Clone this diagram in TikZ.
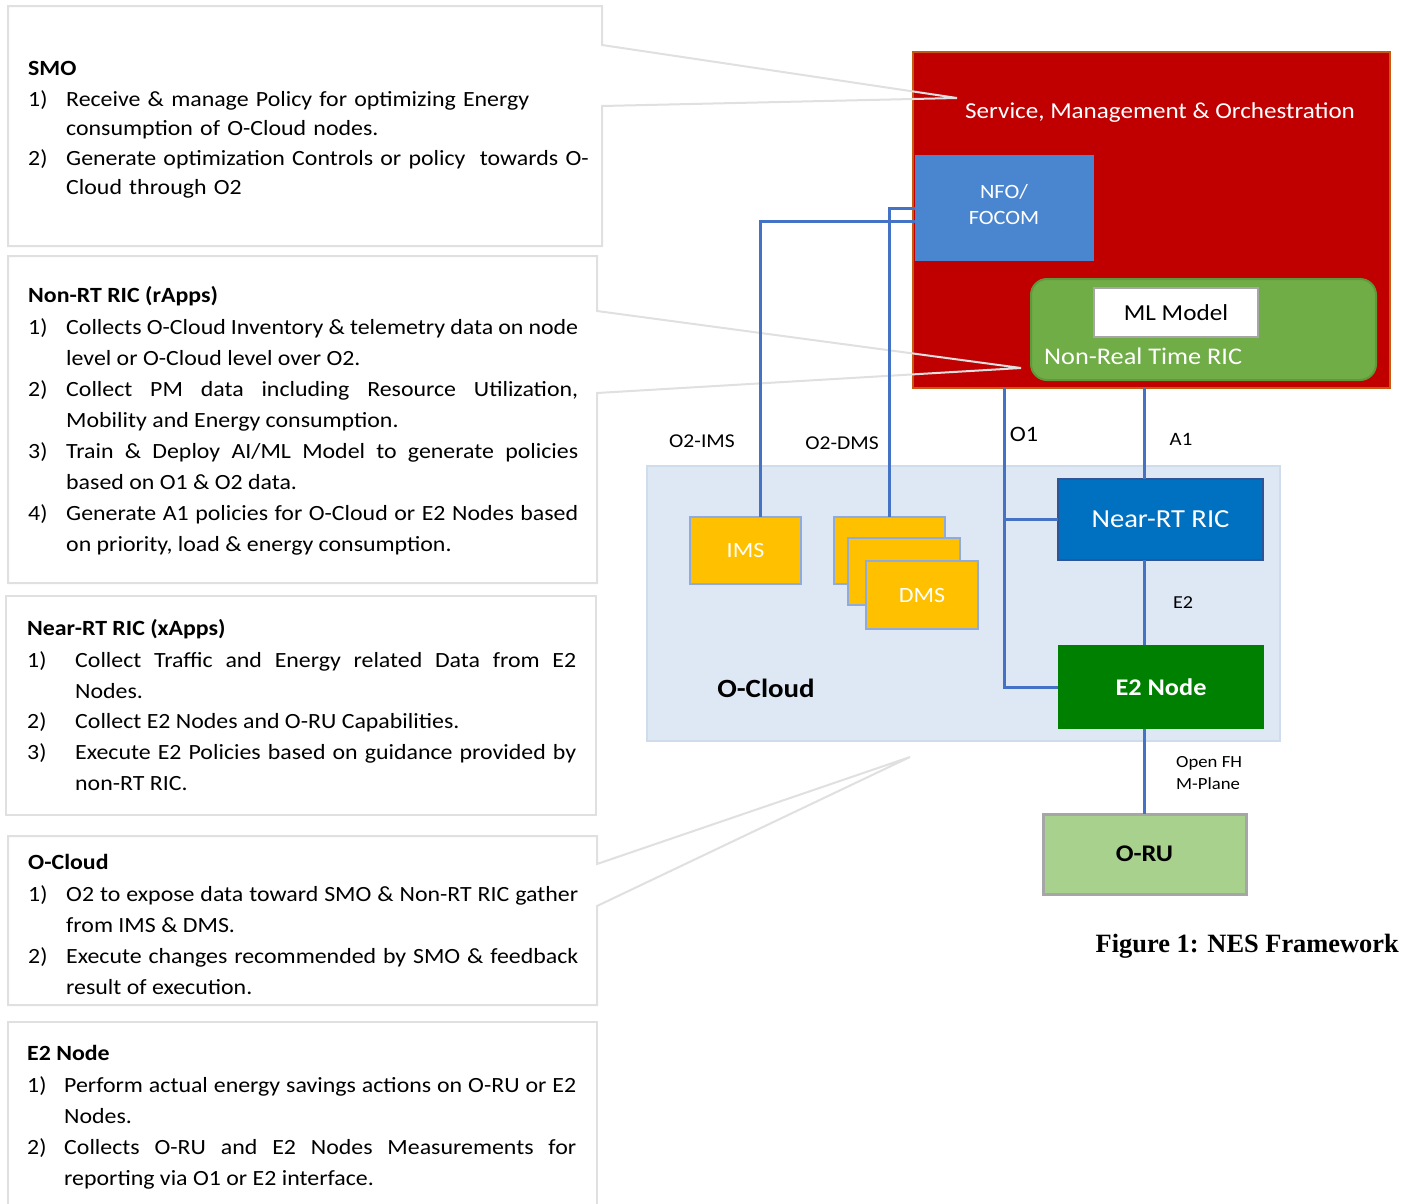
\documentclass[tikz,border=0pt]{standalone}
\usepackage{fontspec}
\setmainfont{Carlito}[FakeStretch=1.1]
\newfontfamily\capfont{Liberation Serif}
\usetikzlibrary{calc}

\definecolor{smored}{HTML}{C00000}
\definecolor{smoedge}{HTML}{C55A11}
\definecolor{nfoblue}{HTML}{4A86D0}
\definecolor{ricgreen}{HTML}{70AD47}
\definecolor{ricedge}{HTML}{5E9A3A}
\definecolor{cloudfill}{HTML}{DEE8F5}
\definecolor{cloudedge}{HTML}{CFDCEC}
\definecolor{msyellow}{HTML}{FFC000}
\definecolor{msedge}{HTML}{8FAADC}
\definecolor{nearblue}{HTML}{0070C0}
\definecolor{nearedge}{HTML}{2F5597}
\definecolor{e2green}{HTML}{008000}
\definecolor{rugreen}{HTML}{A9D18E}
\definecolor{grayedge}{HTML}{A6A6A6}
\definecolor{linkblue}{HTML}{4472C4}
\definecolor{calloutgray}{HTML}{E0E0E0}

\tikzset{
  blk/.style={anchor=north west, inner sep=0pt, outer sep=0pt, line width=2pt},
  callout/.style={draw=calloutgray, line width=2pt, line join=miter},
  link/.style={draw=linkblue, line width=3pt},
  head/.style={anchor=base west, inner sep=0pt, font=\fontsize{21.7}{31}\selectfont\bfseries},
  num/.style={anchor=base west, inner sep=0pt, font=\fontsize{21.7}{31}\selectfont},
  item/.style={anchor=base west, inner sep=0pt, align=justify,
    font=\fontsize{21.7}{31}\selectfont},
  itemsmo/.style={anchor=base west, inner sep=0pt, align=left, text width=530pt,
    font=\fontsize{21.7}{29.5}\selectfont},
  lbl/.style={inner sep=0pt, font=\fontsize{19.6}{22}\selectfont},
}

\begin{document}
\begin{tikzpicture}[x=1pt,y=-1pt]
\useasboundingbox (0,0) rectangle (1402,1203);
\fill[white] (0,0) rectangle (1402,1203);

% ---------- SMO block ----------
\node[blk, fill=smored, draw=smoedge, minimum width=477pt, minimum height=336pt] (smo) at (913,52) {};
\node[text=white, inner sep=0pt, font=\fontsize{22.8}{24}\selectfont] (smotitle) at (1160,113) {Service, Management \& Orchestration};
\node[blk, fill=nfoblue, line width=0pt, minimum width=179pt, minimum height=106pt] (nfo) at (915,155) {};
\node[text=white, align=center, inner sep=0pt, font=\fontsize{20.3}{26}\selectfont] (nfotext) at (1004,205) {NFO/\\FOCOM};
\node[blk, fill=ricgreen, draw=ricedge, rounded corners=16pt, minimum width=345pt, minimum height=101pt] (nonrt) at (1031,279) {};
\node[blk, fill=white, draw=grayedge, line width=2.5pt, minimum width=164pt, minimum height=49pt,
  font=\fontsize{22.9}{24}\selectfont] (ml) at (1094,288) {ML Model};
\node[text=white, anchor=base west, inner sep=0pt, font=\fontsize{23.9}{26}\selectfont] (nonrttext) at (1044,364) {Non-Real Time RIC};

% ---------- O-Cloud ----------
\node[blk, fill=cloudfill, draw=cloudedge, minimum width=633pt, minimum height=275pt] (ocloud) at (647,466) {};
\node[inner sep=0pt, font=\fontsize{26.3}{28}\selectfont\bfseries] (ocloudtext) at (766,688) {O-Cloud};
\node[blk, fill=msyellow, draw=msedge, minimum width=111pt, minimum height=67pt, text=white,
  font=\fontsize{21.8}{22}\selectfont] (ims) at (690,517) {IMS};
\node[blk, fill=msyellow, draw=msedge, minimum width=111pt, minimum height=67pt] (dmsa) at (834,517) {};
\node[blk, fill=msyellow, draw=msedge, minimum width=112pt, minimum height=67pt] (dmsb) at (848,538) {};
\node[blk, fill=msyellow, draw=msedge, minimum width=112pt, minimum height=68pt, text=white,
  font=\fontsize{21.8}{22}\selectfont] (dmsc) at (866,561) {DMS};

\node[blk, fill=nearblue, draw=nearedge, minimum width=205pt, minimum height=81pt, text=white,
  font=\fontsize{26}{28}\selectfont] (nearrt) at (1058,479) {Near-RT RIC};
\node[blk, fill=e2green, line width=0pt, minimum width=206pt, minimum height=84pt, text=white,
  font=\fontsize{23.9}{28}\selectfont\bfseries] (e2) at (1058,645) {E2 Node};
\node[blk, fill=rugreen, draw=grayedge, line width=3pt, minimum width=203pt, minimum height=80pt,
  font=\fontsize{23.9}{28}\selectfont\bfseries] (oru) at (1043,814) {O-RU};

% ---------- interface labels ----------
\node[lbl] (lo2ims) at (702,441) {O2-IMS};
\node[lbl] (lo2dms) at (842,443) {O2-DMS};
\node[lbl, font=\fontsize{22}{24}\selectfont] (lo1) at (1024,434) {O1};
\node[lbl, font=\fontsize{18.9}{22}\selectfont] (la1) at (1181,439) {A1};
\node[lbl, font=\fontsize{18.3}{22}\selectfont] (le2) at (1183,603) {E2};
\node[lbl, align=left, anchor=north west, font=\fontsize{17}{22.5}\selectfont] (lfh) at (1176,756) {Open FH\\M-Plane};

% ---------- caption ----------
\node[anchor=base east, inner sep=0pt, font=\fontsize{26.4}{28}\capfont\bfseries] (caption) at (1399,952) {Figure 1: NES Framework};

% ---------- callout boxes ----------
\coordinate (tipsmo) at (957,98);
\coordinate (tipnonrt) at (1021,368);
\coordinate (tipcloud) at (910,757);
\draw[callout] (8,6) -- (602,6) -- (602,45) -- (tipsmo) -- (602,106) -- (602,246) -- (8,246) -- cycle;
\draw[callout] (8,256) -- (597,256) -- (597,311) -- (tipnonrt) -- (597,393) -- (597,583) -- (8,583) -- cycle;
\draw[callout] (6,596) -- (596,596) -- (596,815) -- (6,815) -- cycle;
\draw[callout] (8,836) -- (597,836) -- (597,864) -- (tipcloud) -- (597,906) -- (597,1005) -- (8,1005) -- cycle;
\draw[callout] (597,1240) -- (597,1022) -- (8,1022) -- (8,1240);

% ---------- connectors ----------
\draw[link] ([yshift=-13pt]nfo.west) -| ([xshift=15pt]ims.north);
\draw[link] (nfo.west) -| (dmsa.north);
\draw[link] (nfo.south |- smo.south) -- (nfo.south |- e2.west) -- (e2.west);
\draw[link] (nfo.south |- nearrt.west) -- (nearrt.west);
\draw[link] (oru.north |- smo.south) -- (oru.north |- nearrt.north);
\draw[link] (oru.north |- nearrt.south) -- (oru.north |- e2.north);
\draw[link] (oru.north |- e2.south) -- (oru.north);

% ---------- SMO text ----------
\node[head] (hsmo) at (28,75) {SMO};
\node[num] (s1n) at (28,106) {1)};
\node[itemsmo] (s1) at (66,106) {Receive \& manage Policy for optimizing Energy\\consumption of O-Cloud nodes.};
\node[num] (s2n) at (28,165) {2)};
\node[itemsmo] (s2) at (66,165) {Generate optimization Controls or policy\ \ towards O-\\Cloud through O2};

% ---------- Non-RT RIC text ----------
\node[head] (hnon) at (28,302) {Non-RT RIC (rApps)};
\node[num] (n1n) at (28,334) {1)};
\node[item, text width=512pt] (n1) at (66,334) {Collects O-Cloud Inventory \& telemetry data on node\linebreak level or O-Cloud level over O2.};
\node[num] (n2n) at (28,396) {2)};
\node[item, text width=512pt] (n2) at (66,396) {Collect PM data including Resource Utilization,\linebreak Mobility and Energy consumption.};
\node[num] (n3n) at (28,458) {3)};
\node[item, text width=512pt] (n3) at (66,458) {Train \& Deploy AI/ML Model to generate policies\linebreak based on O1 \& O2 data.};
\node[num] (n4n) at (28,520) {4)};
\node[item, text width=512pt] (n4) at (66,520) {Generate A1 policies for O-Cloud or E2 Nodes based\linebreak on priority, load \& energy consumption.};

% ---------- Near-RT RIC text ----------
\node[head] (hnear) at (27,635) {Near-RT RIC (xApps)};
\node[num] (r1n) at (27,667) {1)};
\node[item, text width=501pt] (r1) at (75,667) {Collect Traffic and Energy related Data from E2\linebreak Nodes.};
\node[num] (r2n) at (27,728) {2)};
\node[item, text width=501pt] (r2) at (75,728) {Collect E2 Nodes and O-RU Capabilities.};
\node[num] (r3n) at (27,759) {3)};
\node[item, text width=501pt] (r3) at (75,759) {Execute E2 Policies based on guidance provided by\linebreak non-RT RIC.};

% ---------- O-Cloud text ----------
\node[head] (hcloud) at (28,869) {O-Cloud};
\node[num] (c1n) at (28,901) {1)};
\node[item, text width=512pt] (c1) at (66,901) {O2 to expose data toward SMO \& Non-RT RIC gather\linebreak from IMS \& DMS.};
\node[num] (c2n) at (28,963) {2)};
\node[item, text width=512pt] (c2) at (66,963) {Execute changes recommended by SMO \& feedback\linebreak result of execution.};

% ---------- E2 Node text ----------
\node[head] (he2) at (27,1060) {E2 Node};
\node[num] (e1n) at (27,1092) {1)};
\node[item, text width=512pt] (e1) at (64,1092) {Perform actual energy savings actions on O-RU or E2\linebreak Nodes.};
\node[num] (e2n) at (27,1154) {2)};
\node[item, text width=512pt] (e2t) at (64,1154) {Collects O-RU and E2 Nodes Measurements for\linebreak reporting via O1 or E2 interface.};
\end{tikzpicture}
\end{document}
